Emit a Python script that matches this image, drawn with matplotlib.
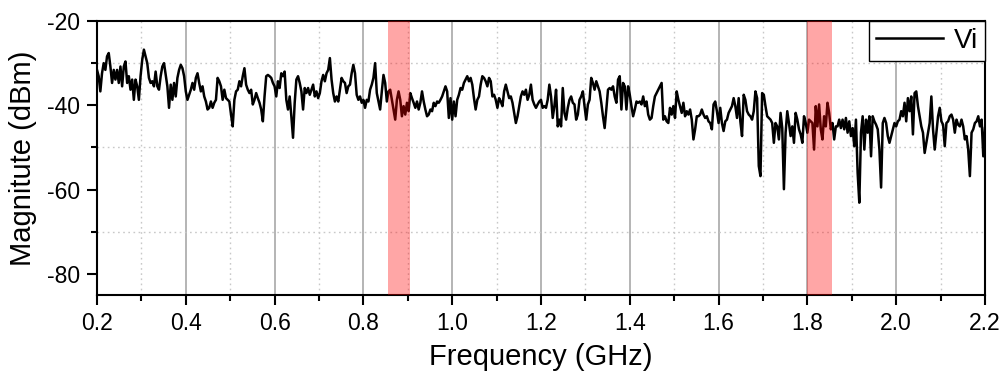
import numpy as np
import matplotlib
matplotlib.use("Agg")
import matplotlib.pyplot as plt
from matplotlib.ticker import MultipleLocator, FormatStrFormatter

plt.rcParams['font.family'] = ['Liberation Sans', 'DejaVu Sans']
plt.rcParams['axes.unicode_minus'] = False

# sweep span (GHz)
f_start, f_stop = 0.2, 2.2

mag_seg1 = [-31.6, -33.1, -36.7, -32.4, -30.0, -31.6, -28.4, -27.6, -30.8, -34.7,
            -31.6, -33.9, -31.6, -34.7, -30.8, -35.5, -30.8, -29.6, -34.7, -33.1,
            -36.3, -33.9, -38.7, -33.9, -35.5, -38.7, -33.1, -29.2, -26.8, -28.4,
            -30.0, -33.5, -34.7, -34.3, -35.5, -32.0, -35.5, -36.3, -33.1, -30.8,
            -30.0, -32.8, -35.5, -40.6, -35.1, -38.7, -34.7, -37.9, -33.5, -31.6,
            -30.4, -31.2, -33.1, -36.7, -38.7, -37.5, -36.3, -34.7, -36.3, -33.5,
            -32.4, -34.7, -36.7, -35.5, -37.9, -39.1, -41.0]
mag_seg2 = [-40.6, -39.1, -40.6, -39.4, -38.7, -33.5, -34.3, -35.5, -38.7, -36.3,
            -38.3, -38.7, -39.1, -42.2, -45.0, -38.7, -36.7, -36.3, -34.3, -35.5,
            -33.1, -31.2, -35.1, -36.3, -37.1, -36.3, -39.8, -38.7, -37.1, -38.3,
            -39.4, -41.0, -43.8, -37.9, -33.1, -32.8, -33.1, -33.5, -34.7, -35.5,
            -37.9, -34.3, -35.9, -32.4, -33.1, -32.0, -38.7, -41.0, -37.9, -42.6,
            -47.7, -39.4, -33.9, -33.1, -34.7, -36.7, -41.0, -35.9, -37.1, -35.9,
            -37.5, -36.3, -35.1, -37.9, -36.7, -38.3]
mag_seg3 = [-37.1, -34.3, -32.8, -34.3, -32.4, -31.6, -28.8, -33.9, -37.1, -39.1,
            -37.9, -39.1, -36.3, -33.5, -34.3, -34.7, -37.1, -35.5, -35.1, -32.4,
            -30.4, -32.4, -37.5, -38.7, -37.9, -39.4, -38.7, -40.6, -38.7, -39.1,
            -36.3, -35.1, -33.5, -30.0, -37.1, -39.1, -41.0, -36.7, -32.8, -34.7,
            -39.1, -36.7, -36.3, -38.7, -41.0, -43.4, -38.7, -36.7, -38.7, -42.6,
            -40.2, -42.2, -39.4, -41.4, -37.1, -38.3, -39.4, -40.6, -39.1, -41.0,
            -39.4, -36.7, -39.1, -41.0, -42.6, -42.2]
mag_seg4 = [-41.0, -41.4, -39.4, -40.2, -39.1, -39.4, -38.7, -37.9, -36.7, -35.5,
            -36.7, -43.0, -38.3, -43.4, -39.1, -42.6, -38.7, -37.5, -35.9, -36.3,
            -34.7, -33.9, -33.1, -34.3, -33.5, -35.1, -38.3, -41.0, -38.7, -37.9,
            -35.1, -33.1, -33.5, -34.3, -35.5, -33.5, -34.3, -37.9, -37.5, -38.7,
            -40.6, -38.3, -39.1, -40.2, -36.7, -35.1, -36.7, -38.3, -37.9, -39.4,
            -41.8, -44.2, -42.6, -40.2, -37.9, -36.7, -37.5, -36.3, -38.7, -37.5,
            -35.1, -38.7, -39.8, -40.6, -39.8, -39.1]
mag_seg5 = [-38.7, -40.6, -40.2, -40.6, -38.7, -35.1, -37.9, -43.0, -40.2, -36.3,
            -45.0, -43.4, -45.0, -35.9, -41.8, -43.4, -40.6, -38.7, -37.9, -39.4,
            -39.8, -43.4, -42.2, -38.7, -37.9, -36.7, -40.2, -43.4, -39.8, -38.7,
            -33.5, -34.7, -36.3, -34.3, -35.5, -36.7, -39.4, -42.6, -45.4, -41.0,
            -36.3, -35.9, -36.3, -35.5, -37.9, -39.4, -33.9, -33.1, -41.0, -34.7,
            -35.5, -41.0, -35.5, -37.5, -40.2, -42.6, -41.0, -39.1, -39.4, -39.1,
            -39.8, -37.9, -40.2, -39.1, -42.2, -43.4]
mag_seg6 = [-43.0, -40.2, -37.9, -37.1, -36.3, -35.5, -34.7, -43.4, -42.6, -43.8,
            -44.2, -40.6, -42.2, -40.2, -43.0, -36.7, -38.7, -40.2, -41.8, -39.4,
            -42.6, -41.4, -42.2, -41.0, -43.4, -48.1, -45.7, -42.6, -42.6, -42.2,
            -41.0, -42.2, -43.0, -42.6, -43.8, -44.2, -45.7, -39.8, -39.1, -41.4,
            -44.2, -40.6, -44.2, -46.1, -43.8, -43.4, -41.8, -41.0, -40.2, -38.3,
            -40.2, -43.0, -38.3, -43.8, -47.3, -37.5, -38.7, -41.4, -42.2, -42.6,
            -43.4, -41.4, -36.7, -38.3, -54.4, -56.8]
mag_seg7 = [-37.1, -37.5, -40.2, -42.6, -43.0, -43.4, -44.2, -48.9, -44.2, -45.0,
            -48.1, -41.8, -45.4, -59.9, -46.5, -41.4, -44.2, -47.3, -45.0, -48.9,
            -41.8, -43.4, -45.7, -46.9, -48.9, -42.6, -44.2, -46.5, -43.4, -43.8,
            -44.2, -50.5, -40.2, -45.0, -39.8, -45.7, -48.1, -42.6, -45.0, -39.4,
            -41.8, -45.7, -44.2, -48.1, -45.0, -45.0, -43.4, -45.4, -43.4, -45.7,
            -43.0, -46.5, -43.8, -47.3, -45.4, -49.7, -43.4, -56.0, -63.1, -46.5,
            -42.6, -50.5, -43.4, -46.5, -42.6, -52.1]
mag_seg8 = [-42.6, -43.8, -44.6, -45.7, -50.5, -59.5, -44.2, -43.0, -44.2, -47.3,
            -48.9, -47.3, -45.7, -44.2, -45.0, -43.8, -43.4, -41.4, -42.6, -39.4,
            -43.8, -38.3, -41.4, -37.9, -46.9, -37.1, -36.7, -40.2, -42.6, -45.0,
            -46.5, -51.3, -48.9, -46.5, -44.2, -37.9, -45.7, -50.5, -46.5, -42.6,
            -40.6, -43.8, -44.6, -49.7, -44.2, -43.8, -42.6, -42.2, -43.4, -46.5,
            -43.4, -44.6, -45.0, -43.4, -45.0, -48.1, -47.3, -50.5, -56.8, -46.5,
            -45.7, -44.2, -43.8, -42.6, -45.0, -43.4, -52.1, -45.4]

# highlighted bands (GHz)
band_low = [0.855, 1.800]
band_high = [0.905, 1.855]

series_label = "Vi"
x_label = "Frequency (GHz)"
y_label = "Magnitute (dBm)"

magnitude = np.concatenate([mag_seg1, mag_seg2, mag_seg3, mag_seg4,
                            mag_seg5, mag_seg6, mag_seg7, mag_seg8])
freq = np.linspace(f_start, f_stop, len(magnitude))

fig = plt.figure(figsize=(10.02, 3.74), dpi=100)
ax = fig.add_axes([0.0968, 0.2112, 0.8862, 0.7327])

ax.plot(freq, magnitude, color='black', lw=1.8, label=series_label, zorder=2)
for lo, hi in zip(band_low, band_high):
    ax.axvspan(lo, hi, color='red', alpha=0.35, lw=0, zorder=3)

ax.set_xlim(0.2, 2.2)
ax.set_ylim(-85, -20)
ax.xaxis.set_major_locator(MultipleLocator(0.2))
ax.xaxis.set_minor_locator(MultipleLocator(0.1))
ax.yaxis.set_major_locator(MultipleLocator(20))
ax.yaxis.set_minor_locator(MultipleLocator(10))
ax.xaxis.set_major_formatter(FormatStrFormatter('%.1f'))
ax.yaxis.set_major_formatter(FormatStrFormatter('%d'))

ax.set_axisbelow(True)
ax.grid(which='major', axis='x', color='#a8a8a8', lw=1.2, ls='-')
ax.grid(which='minor', axis='both', color='#c8c8c8', lw=1.0, ls=(0, (1.2, 2.5)))

for s in ax.spines.values():
    s.set_linewidth(1.5)
    s.set_color('black')

ax.tick_params(which='major', direction='out', length=7, width=1.5,
               labelsize=16.5, pad=5, top=False, right=False)
ax.tick_params(which='minor', direction='out', length=4.5, width=1.5,
               top=False, right=False)

ax.set_xlabel(x_label, fontsize=21, labelpad=6)
ax.set_ylabel(y_label, fontsize=21, labelpad=7)

leg = ax.legend(loc='upper right', fontsize=20, frameon=True, fancybox=False,
                edgecolor='black', framealpha=1, borderaxespad=0,
                handlelength=2.4, borderpad=0.25, handletextpad=0.4)
leg.get_frame().set_linewidth(1.0)

fig.savefig('out.png', dpi=100)
